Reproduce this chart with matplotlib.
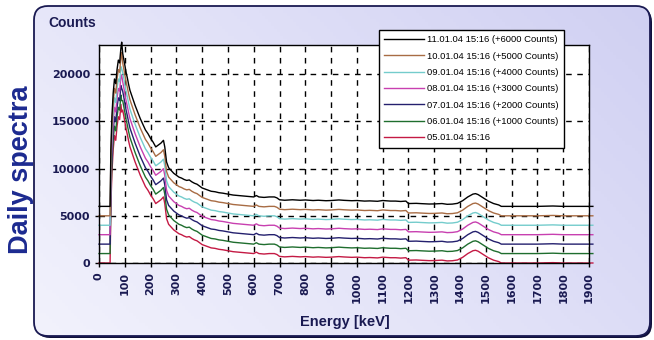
import numpy as np
import matplotlib
matplotlib.use('Agg')
import matplotlib.pyplot as plt
from matplotlib.patches import FancyBboxPatch
from matplotlib.colors import LinearSegmentedColormap

# energy grid (keV) and counts of the undisplaced spectrum (05.01.04)
energy_kev = [0, 43, 46, 50, 55, 60, 65, 70, 75, 80, 85, 88, 92, 96, 100, 105, 110,
              115, 120, 125, 130, 135, 140, 150, 160, 165, 170, 180, 190, 200, 210,
              220, 230, 240, 250, 255, 262, 270, 280, 290, 300, 310, 320, 330, 340,
              350, 360, 370, 380, 390, 400, 410, 420, 435, 450, 465, 480, 500, 520,
              540, 560, 580, 600, 610, 620, 640, 660, 680, 690, 700, 720, 750, 780,
              800, 830, 850, 880, 900, 930, 950, 980, 1000, 1030, 1050, 1080, 1100,
              1130, 1150, 1170, 1190, 1200, 1230, 1250, 1280, 1300, 1330, 1350, 1370,
              1390, 1410, 1430, 1450, 1460, 1470, 1490, 1510, 1530, 1550, 1560, 1620,
              1700, 1760, 1800, 1900, 1915]
base_counts = [0, 0, 6000, 9500, 12000, 13500, 13000, 14500, 15500, 15200, 16800,
               17000, 16200, 15600, 15000, 14200, 13600, 12900, 12300, 11900, 11500,
               11100, 10700, 10000, 9300, 9000, 8700, 8100, 7700, 7200, 6800, 6300,
               6500, 6700, 7000, 6300, 4700, 4100, 3800, 3500, 3300, 3100, 3000, 2850,
               2750, 2800, 2600, 2450, 2350, 2150, 1950, 1850, 1750, 1600, 1550, 1450,
               1400, 1300, 1200, 1150, 1100, 1050, 1000, 1150, 1000, 950, 1000, 1000,
               900, 700, 650, 700, 650, 680, 620, 650, 600, 620, 680, 640, 600, 620,
               560, 580, 540, 620, 560, 560, 520, 560, 300, 320, 290, 250, 260, 300,
               220, 240, 320, 600, 1000, 1300, 1350, 1250, 900, 550, 300, 150, 0, 0,
               0, 40, 0, 0, 0]

labels = ['11.01.04 15:16 (+6000 Counts)', '10.01.04 15:16 (+5000 Counts)',
          '09.01.04 15:16 (+4000 Counts)', '08.01.04 15:16 (+3000 Counts)',
          '07.01.04 15:16 (+2000 Counts)', '06.01.04 15:16 (+1000 Counts)',
          '05.01.04 15:16']
offsets = [6000, 5000, 4000, 3000, 2000, 1000, 0]
peak_counts = [17400, 17300, 16600, 16900, 16500, 16200, 16000]
colors = ['#000000', '#a86c44', '#74cccc', '#c840b0', '#24206e', '#1f6e2e', '#c41a44']

navy = '#1a1a52'
sans = ['Liberation Sans', 'DejaVu Sans']

fig = plt.figure(figsize=(6.54, 3.40), dpi=100)
W, H = 654, 340

# rounded lavender panel
bg = fig.add_axes([0, 0, 1, 1], zorder=-5)
bg.set_xlim(0, W)
bg.set_ylim(0, H)
bg.axis('off')
shadow = FancyBboxPatch((36, 2), 616, 330, boxstyle='round,pad=0,rounding_size=14',
                        fc='#10103a', ec='none')
bg.add_patch(shadow)
panel = FancyBboxPatch((34, 4), 616, 330, boxstyle='round,pad=0,rounding_size=14',
                       fc='none', ec=navy, lw=1.3, zorder=3)
bg.add_patch(panel)
cmap = LinearSegmentedColormap.from_list('lav', ['#f2f2fc', '#e2e2f8', '#d0d0f2'])
gx, gy = np.meshgrid(np.linspace(0, 1, 200), np.linspace(0, 1, 100))
grad = 0.65 * gx + 0.35 * (1 - gy)
im = bg.imshow(grad, cmap=cmap, extent=(34, 650, 4, 334), origin='upper',
               aspect='auto', zorder=2)
clip = FancyBboxPatch((34, 4), 616, 330, boxstyle='round,pad=0,rounding_size=14',
                      fc='none', ec='none', transform=bg.transData)
im.set_clip_path(clip)

ax = fig.add_axes([99 / W, 1 - 263 / H, 490 / W, 218 / H])
ax.set_facecolor('white')

x = np.array(energy_kev)
peak_idx = energy_kev.index(88)
handles = []
for label, off, pk, c in zip(labels[::-1], offsets[::-1], peak_counts[::-1], colors[::-1]):
    y = np.array(base_counts, dtype=float) + off
    y[peak_idx] = pk + off
    ln, = ax.plot(x, y, color=c, lw=1.0, clip_on=False, label=label)
    handles.append(ln)
handles = handles[::-1]

ax.set_xlim(0, 1900)
ax.set_ylim(0, 23100)
ax.set_xticks(np.arange(0, 2000, 100))
ax.set_yticks(np.arange(0, 25000, 5000))
ax.grid(True, color='black', ls=(0, (4, 4)), lw=1.0)
ax.tick_params(direction='out', length=3, width=1, colors='black', labelcolor=navy,
               labelsize=8)
for t in ax.get_xticklabels():
    t.set_rotation(90)
    t.set_fontweight('bold')
for t in ax.get_yticklabels():
    t.set_fontweight('bold')
for s in ax.spines.values():
    s.set_linewidth(1.0)
    s.set_color('black')

fig.text(48 / W, 1 - 27 / H, 'Counts', fontsize=10, fontweight='bold', color=navy,
         family=sans, va='baseline')
fig.text(345 / W, 1 - 322 / H, 'Energy [keV]', fontsize=10.5, fontweight='bold',
         color=navy, family=sans, ha='center', va='center')
fig.text(21 / W, 1 - 170 / H, 'Daily spectra', fontsize=19.5, fontweight='bold',
         color='#1c2a90', family=sans, rotation=90, ha='center', va='center')

leg = fig.legend(handles=handles, loc='upper left', bbox_to_anchor=(379 / W, 1 - 30 / H),
                 prop={'family': sans, 'size': 6.8}, frameon=True, fancybox=False,
                 handlelength=4.2, handletextpad=0.3, labelspacing=0.78,
                 borderpad=0.55, borderaxespad=0)
leg.get_frame().set_edgecolor('black')
leg.get_frame().set_linewidth(1.0)
leg.get_frame().set_facecolor('white')
leg.get_frame().set_alpha(1)

fig.savefig('out.png', dpi=100)
